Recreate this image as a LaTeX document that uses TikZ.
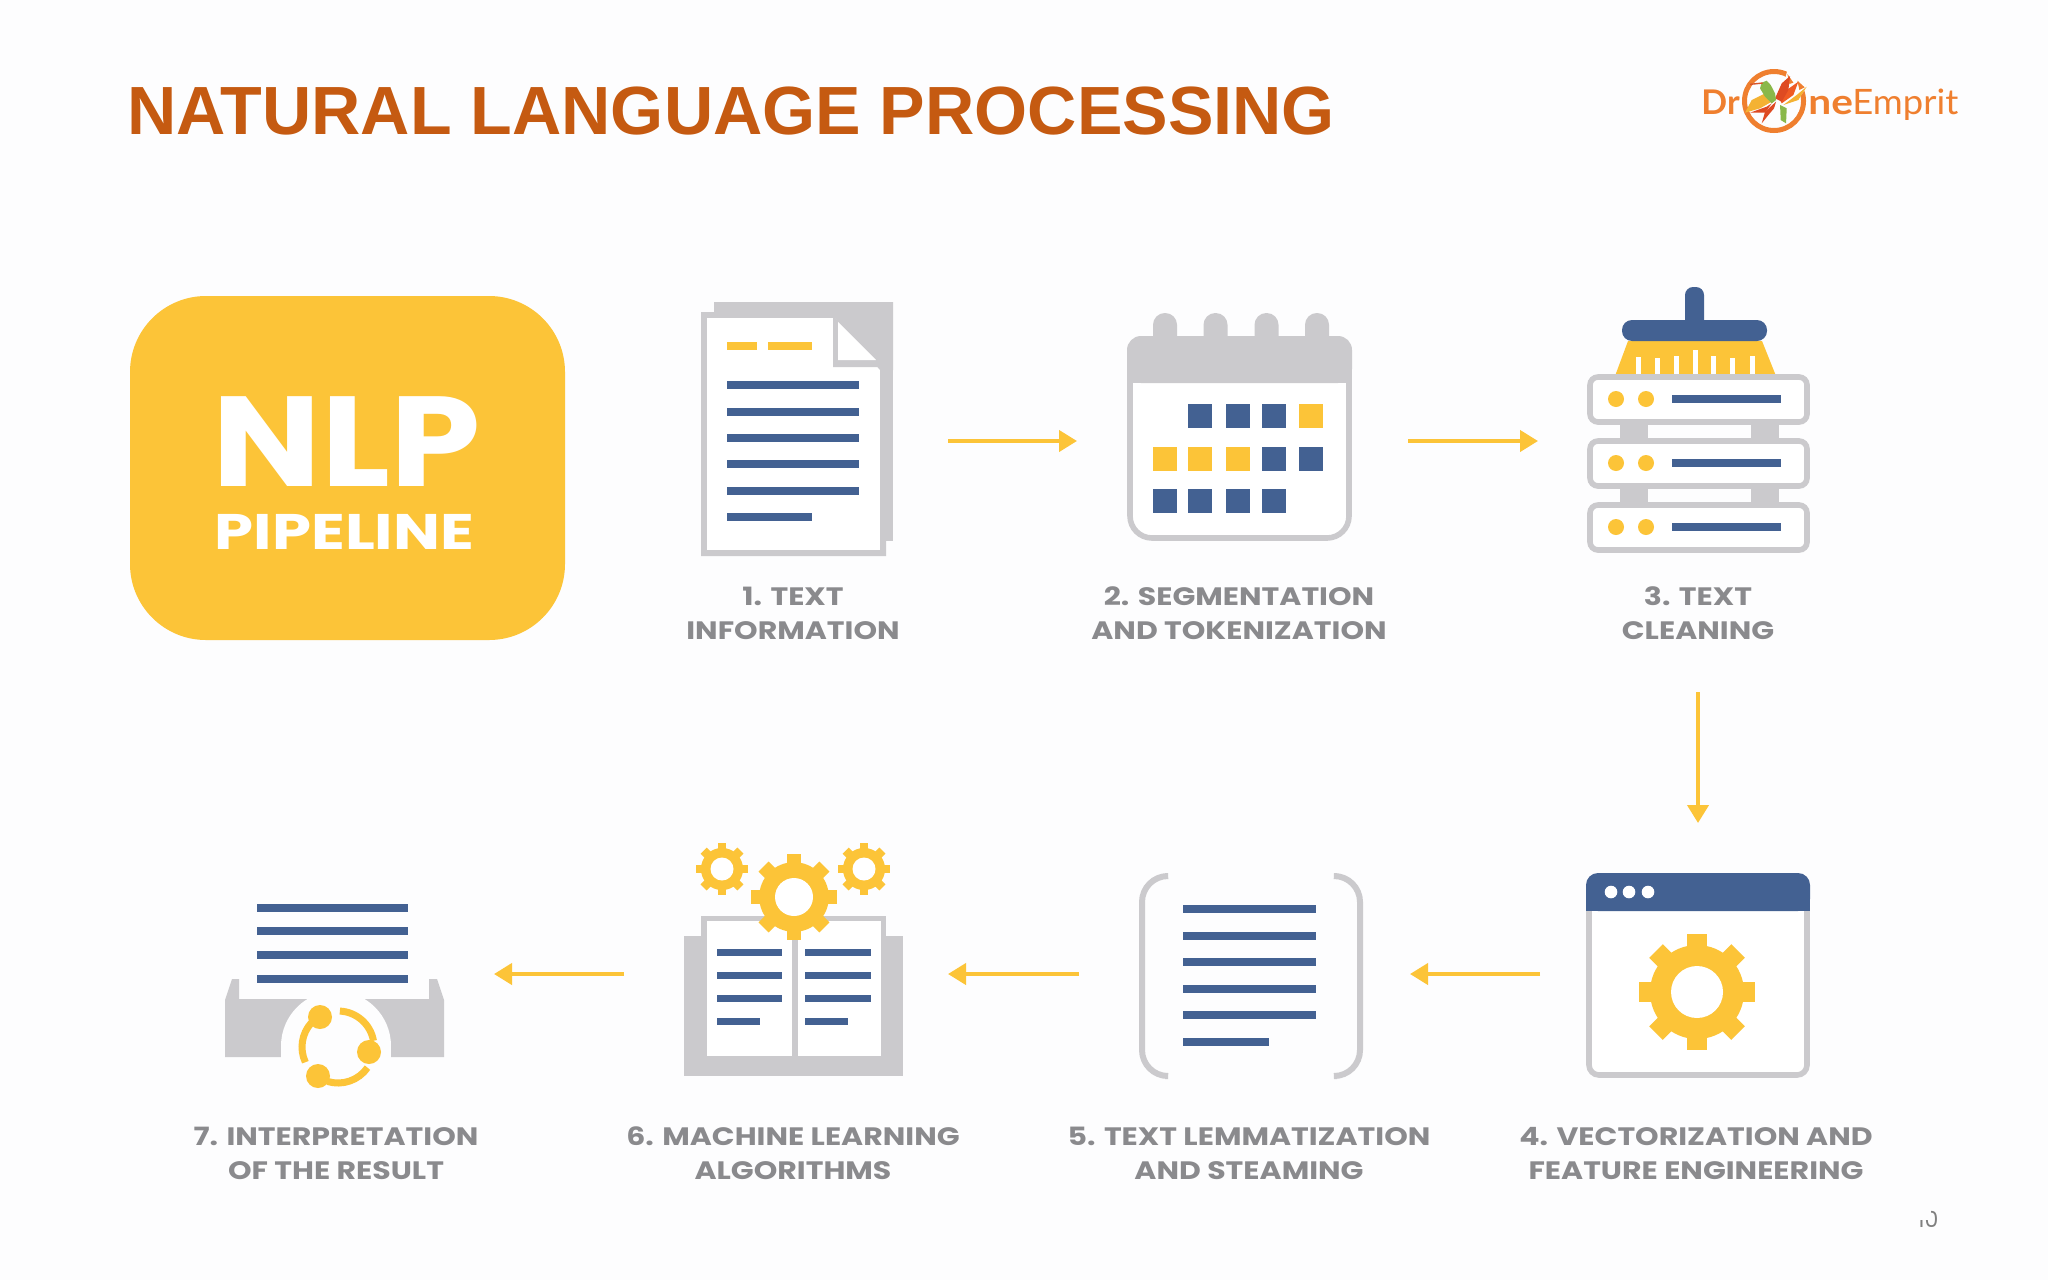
\documentclass[tikz,border=0pt]{standalone}
\usepackage{fontspec}
\setmainfont{Poppins}
\newfontfamily\labfont[FakeStretch=1.19]{Poppins}
\newfontfamily\nlpfont[FakeStretch=1.13]{Poppins}
\newfontfamily\pipefont[FakeStretch=1.25]{Poppins}
\newfontfamily\titlefont{Liberation Sans}
\newfontfamily\logofont[FakeStretch=1.04]{Lato}
\newfontfamily\logoboldfont[FakeStretch=1.16]{Lato}
\newfontfamily\logodrfont{Lato}
\usetikzlibrary{arrows.meta}
\definecolor{ylw}{HTML}{FCC438}
\definecolor{blu}{HTML}{436192}
\definecolor{gry}{HTML}{CBCACD}
\definecolor{txt}{HTML}{8A8A8D}
\definecolor{ttl}{HTML}{C55A11}
\definecolor{lgo}{HTML}{EF7F2F}
\definecolor{bgr}{HTML}{FDFDFE}
\definecolor{birdy}{HTML}{F4B233}
\definecolor{birdr}{HTML}{DE4A22}
\definecolor{birdo}{HTML}{EF5A24}
\definecolor{birdg}{HTML}{8AB84A}
\tikzset{
  x=0.5pt,y=-0.5pt,
  flow/.style={draw=ylw,line width=2pt,-{Triangle[length=9pt,width=10.5pt]}},
  steplabel/.style={font=\labfont\bfseries\fontsize{12.6pt}{17pt}\selectfont,text=txt,align=center,inner sep=0pt},
  frame/.style={draw=gry,line width=2.8pt,fill=white},
}
\newcommand\gearicon[4]{%
  \begin{scope}[shift={(#1,#2)}]
    \foreach \a in {0,45,...,315}{\fill[ylw,rotate=\a] ({-0.165*#3},0) rectangle ({0.165*#3},{#3});}
    \fill[ylw] (0,0) circle[radius={0.81*#3}];
    \fill[white] (0,0) circle[radius=#4];
  \end{scope}}
\newcommand\blines[4]{%
  \foreach \yy in {#4}{\fill[blu] (#1,{\yy-#3/2}) rectangle (#2,{\yy+#3/2});}}
\begin{document}
\begin{tikzpicture}
\useasboundingbox (0,0) rectangle (2048,1280);
\fill[bgr] (0,0) rectangle (2048,1280);

% title
\node[anchor=base west,inner sep=0pt,text=ttl,font=\titlefont\bfseries\fontsize{34.1pt}{36pt}\selectfont] (title) at (127,134) {NATURAL LANGUAGE PROCESSING};

% logo
\node[anchor=base west,inner sep=0pt,text=lgo,font=\logodrfont\bfseries\fontsize{17pt}{20pt}\selectfont] (lgDr) at (1701,114) {Dr};
\node[anchor=base west,inner sep=0pt,text=lgo,font=\logoboldfont\bfseries\fontsize{17.5pt}{20pt}\selectfont] (lgne) at (1808,114) {ne};
\node[anchor=base west,inner sep=0pt,text=lgo,font=\logofont\fontsize{17.5pt}{20pt}\selectfont] (lgEm) at (1852,114) {Emprit};
\draw[lgo,line width=2.5pt] (1774,101) circle[radius=29.5];
\begin{scope}[shift={(1650,40)},x=0.1667pt,y=-0.1667pt]
  \fill[bgr] (412,92) -- (478,132) -- (445,175) -- (395,150) -- cycle;
  \fill[lgo] (412,102) -- (430,128) -- (418,132) -- cycle;
  \fill[lgo] (442,122) -- (464,142) -- (448,150) -- cycle;
  \fill[birdy] (285,218) -- (305,180) -- (345,160) -- (372,165) -- (365,185) -- (330,205) -- cycle;
  \fill[birdr] (335,250) -- (345,215) -- (378,185) -- (372,205) -- (355,225) -- cycle;
  \fill[birdr] (300,218) -- (350,200) -- (365,190) -- (345,218) -- cycle;
  \fill[birdg] (390,195) -- (410,205) -- (408,250) -- (392,240) -- cycle;
  \fill[birdy] (400,195) -- (440,165) -- (470,140) -- (445,180) -- cycle;
  \fill[birdo] (390,180) -- (410,150) -- (445,125) -- (430,165) -- (395,190) -- cycle;
  \fill[birdr] (375,175) -- (395,130) -- (420,108) -- (415,150) -- (395,185) -- cycle;
  \fill[birdg] (335,128) -- (350,122) -- (362,135) -- (375,160) -- (378,180) -- (365,190) -- (345,170) -- (330,145) -- cycle;
  \draw[birdr!80!brown,line width=0.7pt] (300,133) -- (338,129);
\end{scope}

% NLP box
\fill[ylw,rounded corners=38pt] (130,296) rectangle (565,640);
\node[inner sep=0pt,text=white,font=\nlpfont\bfseries\fontsize{64pt}{64pt}\selectfont,anchor=base] (nlp) at (347,486) {NLP};
\node[inner sep=0pt,text=white,font=\pipefont\bfseries\fontsize{25pt}{25pt}\selectfont,anchor=base] (pipe) at (344.5,549) {PIPELINE};

% 1 document
\fill[gry] (714,302) rectangle (893,541);
\fill[gry] (701,312) -- (833,312) -- (886,372) -- (886,556) -- (701,556) -- cycle;
\fill[white] (707,318) -- (880,318) -- (880,550) -- (707,550) -- cycle;
\fill[gry] (833,302) -- (893,302) -- (893,370) -- (880,370) -- (833,316) -- cycle;
\fill[gry] (833,316) -- (882,367) -- (833,367) -- cycle;
\fill[white] (838,322) -- (876,360) -- (838,360) -- cycle;
\fill[ylw] (727,342) rectangle (757,350);
\fill[ylw] (768,342) rectangle (812,350);
\blines{727}{859}{8}{385,412,438,464,491}
\blines{727}{812}{8}{517}

% 2 calendar
\foreach \cx in {1165,1215.5,1266.5,1317}{\fill[gry,rounded corners=5.9pt] ({\cx-12},313) rectangle ({\cx+12},350);}
\draw[frame,rounded corners=11pt] (1130,350) rectangle (1349,538);
\fill[gry,rounded corners=7pt] (1127,336) -- (1352,336) -- (1352,383) -- (1127,383) -- cycle;
\fill[gry] (1127,360) rectangle (1352,383);
\foreach \c/\x/\y in {blu/1200/416,blu/1238/416,blu/1274/416,ylw/1311/416,
                      ylw/1165/459,ylw/1200/459,ylw/1238/459,blu/1274/459,blu/1311/459,
                      blu/1165/501,blu/1200/501,blu/1238/501,blu/1274/501}
  {\fill[\c] ({\x-12},{\y-12}) rectangle ({\x+12},{\y+12});}

% 3 broom + server
\fill[gry] (1620,425) rectangle (1648,438);
\fill[gry] (1751,425) rectangle (1779,438);
\fill[gry] (1620,489) rectangle (1648,502);
\fill[gry] (1751,489) rectangle (1779,502);
\fill[ylw] (1628,341) -- (1762,341) -- (1776,376) -- (1615,376) -- cycle;
\foreach \bx/\by in {1638/357,1657/358,1676/356,1695/350,1713/356,1732/358,1752/356}
  {\fill[white] ({\bx-2.5},\by) rectangle ({\bx+2.5},376);}
\fill[blu,rounded corners=4pt] (1685,287) rectangle (1704,330);
\fill[blu,rounded corners=5pt] (1622,320) rectangle (1767,341);
\foreach \ya/\yb/\ym in {374/425/399,438/489/463,502/553/527}{
  \draw[frame,rounded corners=4pt] (1590,{\ya+3}) rectangle (1807,{\yb-3});
  \fill[ylw] (1616,\ym) circle[radius=8];
  \fill[ylw] (1646,\ym) circle[radius=8];
  \fill[blu] (1672,{\ym-4}) rectangle (1781,{\ym+4});
}

% 4 window
\draw[frame,rounded corners=5pt] (1589,890) -- (1589,1075) -- (1807,1075) -- (1807,890);
\fill[blu,rounded corners=6pt] (1586,873) -- (1810,873) -- (1810,911) -- (1586,911) -- cycle;
\fill[blu] (1586,890) rectangle (1810,911);
\foreach \dx in {1611,1629,1648}{\fill[white] (\dx,892) circle[radius=6.3];}
\gearicon{1697}{992}{58}{26}

% 5 brackets
\draw[gry,line width=3pt,rounded corners=13pt] (1165,876) -- (1142,876) -- (1142,1076) -- (1165,1076);
\draw[gry,line width=3pt,rounded corners=13pt] (1337,876) -- (1360,876) -- (1360,1076) -- (1337,1076);
\blines{1183}{1316}{8}{909,936,962,989,1015}
\blines{1183}{1269}{8}{1042}

% 6 book
\fill[gry] (684,936) rectangle (903,1076);
\fill[gry] (701,916) rectangle (886,1056);
\fill[white] (707,921) rectangle (881,1056);
\fill[gry] (792,921) rectangle (798,1056);
\blines{717}{782}{7}{952,975,998}
\blines{717}{760}{7}{1021}
\blines{805}{871}{7}{952,975,998}
\blines{805}{848}{7}{1021}
\gearicon{794}{897}{43}{19}
\gearicon{722}{869}{26}{11.5}
\gearicon{864}{869}{26}{11.5}

% 7 tray
\fill[gry] (225,1000) -- (232,979) -- (239,979) -- (239,999) -- (429,999) -- (429,979) -- (437,979) -- (444,1000) -- (444,1057) -- (225,1057) -- cycle;
\fill[bgr] (336,1046) circle[radius=55];
\fill[bgr] (281,1046) rectangle (391,1090);
\blines{257}{408}{8}{908,931,955,979}
\begin{scope}[shift={(338,1047)}]
  \draw[ylw,line width=3.5pt] (-87:36) arc[start angle=-87,end angle=-10,radius=36];
  \draw[ylw,line width=3.5pt] (35:36) arc[start angle=35,end angle=107,radius=36];
  \draw[ylw,line width=3.5pt] (155:36) arc[start angle=155,end angle=222,radius=36];
\end{scope}
\fill[ylw] (320,1017) circle[radius=12];
\fill[ylw] (369,1052) circle[radius=12];
\fill[ylw] (318,1076) circle[radius=12];

% labels
\node[steplabel] (l1) at (793,613) {1. TEXT\\INFORMATION};
\node[steplabel] (l2) at (1239,613) {2. SEGMENTATION\\AND TOKENIZATION};
\node[steplabel] (l3) at (1698,613) {3. TEXT\\CLEANING};
\node[steplabel] (l4) at (1696,1153) {4. VECTORIZATION AND\\FEATURE ENGINEERING};
\node[steplabel] (l5) at (1249,1153) {5. TEXT LEMMATIZATION\\AND STEAMING};
\node[steplabel] (l6) at (793,1153) {6. MACHINE LEARNING\\ALGORITHMS};
\node[steplabel] (l7) at (336,1153) {7. INTERPRETATION\\OF THE RESULT};

% connectors
\coordinate (a1s) at (948,441); \coordinate (a1e) at (1077,441);
\coordinate (a2s) at (1408,441); \coordinate (a2e) at (1538,441);
\coordinate (a3s) at (1698,692); \coordinate (a3e) at (1698,823);
\coordinate (a4s) at (1540,974); \coordinate (a4e) at (1410,974);
\coordinate (a5s) at (1079,974); \coordinate (a5e) at (948,974);
\coordinate (a6s) at (624,974); \coordinate (a6e) at (494,974);
\foreach \k in {1,...,6}{\draw[flow] (a\k s) -- (a\k e);}

% page number, its upper left lost as in the reference
\node[inner sep=0pt,text=gray,font=\fontsize{11pt}{11pt}\selectfont] (pg) at (1928,1219) {10};
\fill[bgr] (1908,1204) rectangle (1931,1219.5);
\end{tikzpicture}
\end{document}
